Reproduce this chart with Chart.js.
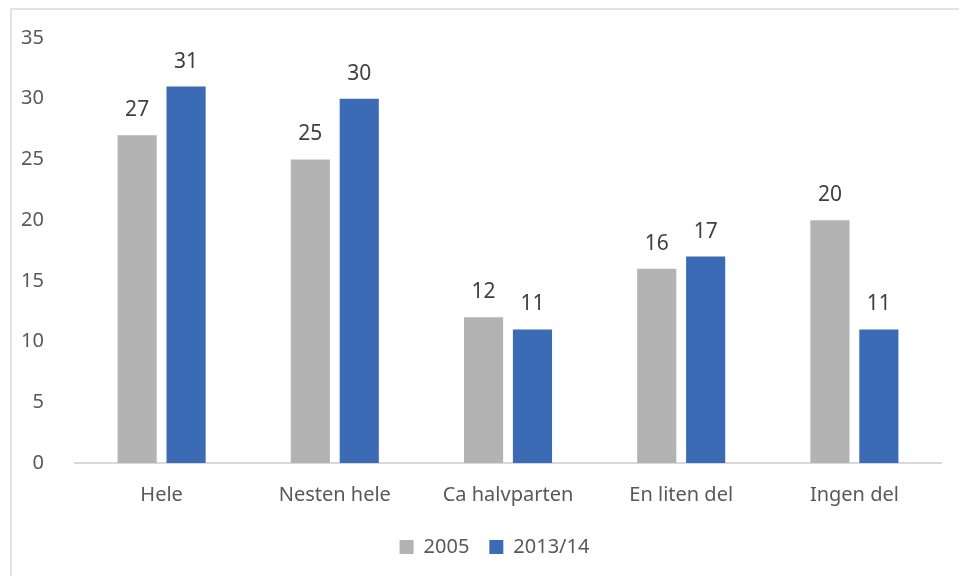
<!DOCTYPE html>
<html>
<head>
<meta charset="utf-8">
<script src="https://cdn.jsdelivr.net/npm/chart.js@4"></script>
<style>
  body { margin: 0; background: #fff; }
  #wrap { position: relative; width: 959px; height: 576px; }
  #frame { position: absolute; left: 10px; top: 8px; right: -5px; bottom: -5px; border-left: 2px solid #e2e2e2; border-top: 2px solid #e2e2e2; }
  canvas { position: absolute; left: 0; top: 0; }
</style>
</head>
<body>
<div id="wrap">
  <div id="frame"></div>
  <canvas id="myChart" width="959" height="576"></canvas>
</div>
<script>
const categories = ["Hele", "Nesten hele", "Ca halvparten", "En liten del", "Ingen del"];
const values2005 = [27, 25, 12, 16, 20];
const values2013 = [31, 30, 11, 17, 11];
const seriesNames = ["2005", "2013/14"];

const fontFam = "'Noto Sans', 'Open Sans', sans-serif";

// draws the value above each bar
const barLabels = {
	id: "barLabels",
	afterLayout(chart) {
		// centre the legend under the plot instead of the whole canvas
		if (chart.legend) {
			chart.legend.left += 24;
			chart.legend.right += 24;
		}
	},
	afterDatasetsDraw(chart) {
		const ctx = chart.ctx;
		ctx.save();
		ctx.font = "21px " + fontFam;
		ctx.fillStyle = "#404040";
		ctx.textAlign = "center";
		ctx.textBaseline = "middle";
		chart.data.datasets.forEach((ds, i) => {
			chart.getDatasetMeta(i).data.forEach((bar, j) => {
				ctx.fillText(ds.data[j], bar.x, bar.y - 25);
			});
		});
		ctx.restore();
	},
};

const myChart = new Chart(document.getElementById("myChart"), {
	type: "bar",
	data: {
		labels: categories,
		datasets: [
			{
				label: seriesNames[0],
				data: values2005,
				backgroundColor: "#b3b3b3",
				barPercentage: 0.8,
				categoryPercentage: 0.565,
			},
			{
				label: seriesNames[1],
				data: values2013,
				backgroundColor: "#3c6bb5",
				barPercentage: 0.8,
				categoryPercentage: 0.565,
			},
		],
	},
	options: {
		responsive: false,
		animation: false,
		layout: { padding: { top: 38, right: 18, left: 0, bottom: 9 } },
		plugins: {
			legend: {
				position: "bottom",
				labels: {
					boxWidth: 14,
					boxHeight: 14,
					padding: 20,
					color: "#595959",
					font: { family: fontFam, size: 20 },
				},
			},
			tooltip: { enabled: false },
		},
		scales: {
			x: {
				grid: { display: false },
				border: { color: "#d9d9d9", width: 2 },
				ticks: { color: "#595959", font: { family: fontFam, size: 20 }, padding: 12 },
				afterFit: (s) => { s.height = 54; },
			},
			y: {
				min: 0,
				max: 35,
				grid: { display: false },
				border: { display: false },
				ticks: { stepSize: 5, color: "#595959", font: { family: fontFam, size: 20 }, padding: 23 },
				afterFit: (s) => { s.width = 75; },
			},
		},
	},
	plugins: [barLabels],
});
</script>
</body>
</html>
